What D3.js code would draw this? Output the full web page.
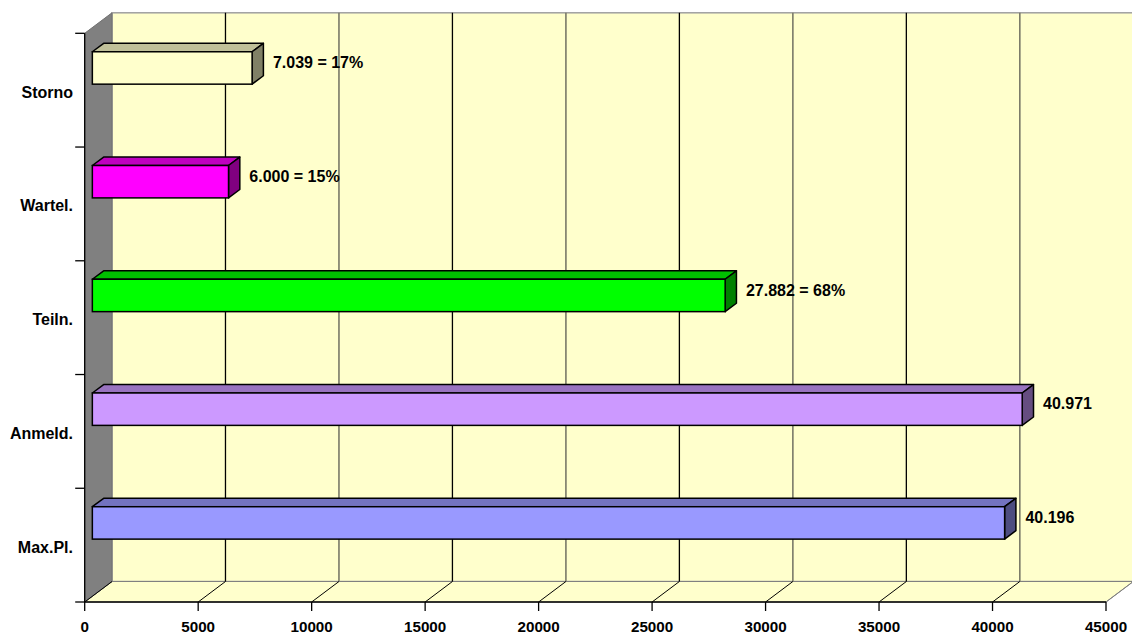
<!DOCTYPE html>
<html><head><meta charset="utf-8">
<script src="https://cdn.jsdelivr.net/npm/d3@7"></script>
<style>body{margin:0;background:#fff}svg{display:block}text{font-family:"Liberation Sans",Arial,sans-serif;font-weight:bold;font-size:16px;fill:#000}text.xlab{font-size:15.2px}</style>
</head><body>
<script>
const categories = ["Storno", "Wartel.", "Teiln.", "Anmeld.", "Max.Pl."];
const values = [7039, 6000, 27882, 40971, 40196];
const valueLabels = ["7.039 = 17%", "6.000 = 15%", "27.882 = 68%", "40.971", "40.196"];
const colors = ["#FFFFCC", "#FF00FF", "#00FF00", "#CC99FF", "#9999FF"];
const xTicks = [0, 5000, 10000, 15000, 20000, 25000, 30000, 35000, 40000, 45000];

const W = 1132, H = 633;
const svg = d3.select("body").append("svg").attr("width", W).attr("height", H);

const x = d3.scaleLinear().domain([0, 45000]).range([84.7, 1106]);
const y = d3.scaleBand().domain(categories).range([33.3, 602]).padding(0);
const DX = 27.3, DY = -20.5;           // wall depth offset
const F0 = 0.28;                        // bar front depth fraction
const BDX = 11.3, BDY = -8.4;           // bar depth
const bw = y.bandwidth();
const yTop = y.range()[0], yBot = y.range()[1];
const line = d3.line();

// back wall
svg.append("rect").attr("x", x(0) + DX).attr("y", yTop + DY)
  .attr("width", x(45000) - x(0)).attr("height", yBot - yTop)
  .attr("fill", "#FFFFCC").attr("stroke", "#A0A0A0").attr("stroke-width", 1.5);

// floor
svg.append("path").attr("d", line([[x(0), yBot], [x(45000), yBot], [x(45000) + DX, yBot + DY], [x(0) + DX, yBot + DY]]) + "Z")
  .attr("fill", "#FFFFCC").attr("stroke", "#808080").attr("stroke-width", 1);

// back wall gridlines
svg.selectAll(".grid").data(xTicks.filter(t => t > 0 && t < 45000)).join("line")
  .attr("x1", d => x(d) + DX).attr("x2", d => x(d) + DX)
  .attr("y1", yTop + DY).attr("y2", yBot + DY)
  .attr("stroke", (d, i) => i % 2 === 0 ? "#000" : "#7a7a68").attr("stroke-width", (d, i) => i % 2 === 0 ? 1.3 : 1.6);

// floor gridlines
svg.selectAll(".fgrid").data(xTicks.filter(t => t > 0)).join("line")
  .attr("x1", d => x(d)).attr("y1", yBot)
  .attr("x2", d => x(d) + DX).attr("y2", yBot + DY)
  .attr("stroke", d => d === 45000 ? "#808080" : "#000").attr("stroke-width", 1);

// left wall
svg.append("path").attr("d", line([[x(0), yTop], [x(0) + DX, yTop + DY], [x(0) + DX, yBot + DY], [x(0), yBot]]) + "Z")
  .attr("fill", "#808080").attr("stroke", "#707070").attr("stroke-width", 1);
svg.append("line").attr("x1", x(0)).attr("y1", yBot).attr("x2", x(0) + DX).attr("y2", yBot + DY)
  .attr("stroke", "#000").attr("stroke-width", 1);

// axes
svg.append("line").attr("x1", x(0)).attr("x2", x(0)).attr("y1", yTop).attr("y2", yBot).attr("stroke", "#000").attr("stroke-width", 1.3);
svg.append("line").attr("x1", x(0)).attr("x2", x(45000)).attr("y1", yBot).attr("y2", yBot).attr("stroke", "#000").attr("stroke-width", 1.3);
const yTickPos = categories.map(c => y(c)).concat([yBot]);
svg.selectAll(".ytick").data(yTickPos).join("line")
  .attr("x1", x(0) - 9.5).attr("x2", x(0)).attr("y1", d => d).attr("y2", d => d)
  .attr("stroke", "#000").attr("stroke-width", 1.3);
svg.selectAll(".xtick").data(xTicks).join("line")
  .attr("x1", d => x(d)).attr("x2", d => x(d)).attr("y1", yBot).attr("y2", yBot + 9)
  .attr("stroke", "#000").attr("stroke-width", 1.3);
svg.selectAll(".xlab").data(xTicks).join("text").attr("class", "xlab")
  .attr("x", d => x(d)).attr("y", 631.5).attr("text-anchor", "middle").text(d => d);
svg.selectAll(".ylab").data(categories).join("text")
  .attr("x", 73).attr("y", d => y(d) + bw / 2 + 7.5).attr("text-anchor", "end").text(d => d);

// bars
const bars = categories.map((c, i) => {
  const x0 = x(0) + F0 * DX, x1 = x(values[i]) + F0 * DX;
  const t = y(c) + 24.2 + F0 * DY, b = t + 32.4;
  return {c, i, x0, x1, t, b};
});
const g = svg.selectAll(".bar").data(bars).join("g");
g.append("path").attr("d", d => line([[d.x0, d.t], [d.x0 + BDX, d.t + BDY], [d.x1 + BDX, d.t + BDY], [d.x1, d.t]]) + "Z")
  .attr("fill", d => d3.rgb(colors[d.i]).darker(0.8)).attr("stroke", "#000").attr("stroke-width", 1.5).attr("stroke-linejoin", "round");
g.append("path").attr("d", d => line([[d.x1, d.t], [d.x1 + BDX, d.t + BDY], [d.x1 + BDX, d.b + BDY], [d.x1, d.b]]) + "Z")
  .attr("fill", d => { const k = d3.rgb(colors[d.i]); return d3.rgb(k.r * 0.5, k.g * 0.5, k.b * 0.5); })
  .attr("stroke", "#000").attr("stroke-width", 1.5).attr("stroke-linejoin", "round");
g.append("rect").attr("x", d => d.x0).attr("y", d => d.t).attr("width", d => d.x1 - d.x0).attr("height", d => d.b - d.t)
  .attr("fill", d => colors[d.i]).attr("stroke", "#000").attr("stroke-width", 1.5);
g.append("text").attr("x", d => d.x1 + BDX + 9.5).attr("y", d => (d.t + BDY + d.b) / 2 + 4.5)
  .text(d => valueLabels[d.i]);
</script>
</body></html>
